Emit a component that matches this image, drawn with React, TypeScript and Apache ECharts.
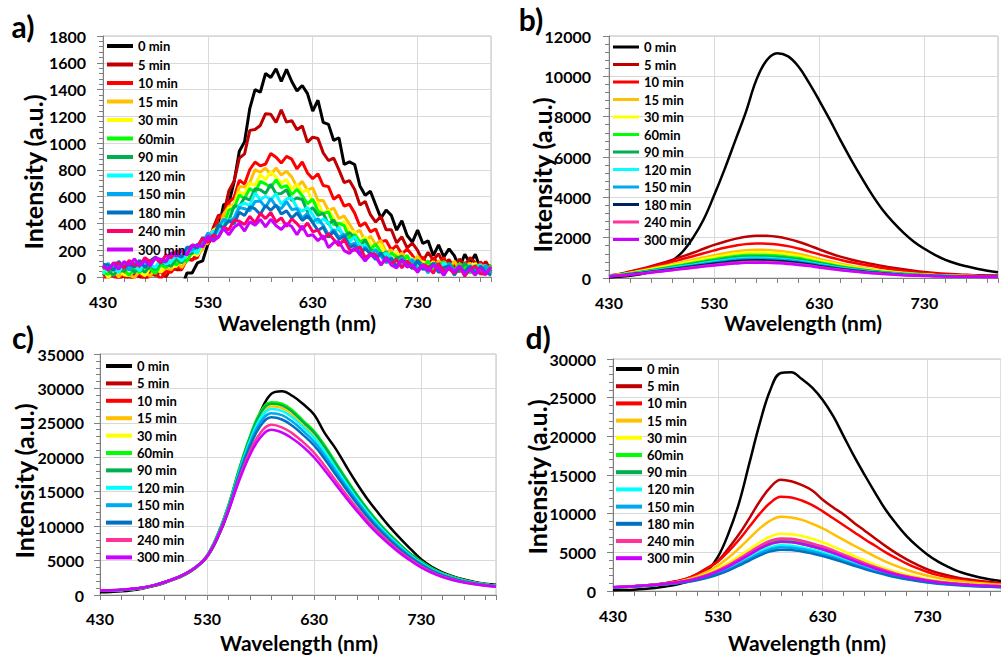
import React, { useEffect, useRef } from "react";
import * as echarts from "echarts";

// ---------- axes / categories ----------
const WL5 = [430,435,440,445,450,455,460,465,470,475,480,485,490,495,500,505,510,515,520,525,530,535,540,545,550,555,560,565,570,575,580,585,590,595,600,605,610,615,620,625,630,635,640,645,650,655,660,665,670,675,680,685,690,695,700,705,710,715,720,725,730,735,740,745,750,755,760,765,770,775,780,785,790,795,800];
const WL10 = [430,440,450,460,470,480,490,500,510,520,530,540,550,560,570,580,590,600,610,620,630,640,650,660,670,680,690,700,710,720,730,740,750,760,770,780,790,800];
const SERIES_NAMES = ["0 min","5 min","10 min","15 min","30 min","60min","90 min","120 min","150 min","180 min","240 min","300 min"];
const X_MIN = 430;
const X_MAX = 800;
const X_INTERVAL = 100;

const COLORS_A = ["#000000","#C00000","#FF0000","#FFC000","#FFFF00","#00FF00","#00B050","#00FFFF","#00A8F0","#0070C0","#FF0066","#CC00FF"];
const COLORS_B = ["#000000","#C00000","#FF0000","#FFC000","#FFFF00","#00FF00","#00B050","#00FFFF","#00A8F0","#002060","#FF3399","#CC00FF"];
const COLORS_CD = ["#000000","#C00000","#FF0000","#FFC000","#FFFF00","#00FF00","#00B050","#00FFFF","#00A8F0","#0070C0","#FF3399","#CC00FF"];

// ---------- panel a (noisy, 5 nm steps) ----------
const A_0 = [-40,-75,-30,-55,-85,-45,-90,-35,-65,-25,-80,-50,-95,-40,-60,-85,30,30,105,120,245,305,350,540,550,710,940,1010,1260,1400,1380,1520,1490,1555,1460,1550,1460,1390,1430,1370,1240,1320,1155,1140,1020,1040,840,860,840,680,610,640,540,440,500,460,350,420,310,260,350,250,270,160,240,150,210,160,70,170,100,170,60,110,30];
const A_5 = [25,-5,35,-20,10,-35,20,0,-25,40,10,40,0,65,55,55,135,125,175,260,242,365,460,467,643,715,888,920,1095,1102,1132,1220,1215,1155,1248,1157,1168,1100,1128,1007,1045,1035,927,870,888,800,705,720,653,537,565,465,410,453,352,353,255,300,217,253,198,117,185,125,175,92,130,72,135,79,145,106,57,115,45];
const A_10 = [-30,25,5,-20,35,-15,-5,30,-25,10,30,-15,45,35,85,60,130,130,145,240,283,296,446,455,557,594,723,694,803,859,830,844,923,895,851,901,880,807,859,777,734,771,683,675,581,611,530,543,477,379,406,337,359,264,273,202,236,170,209,162,107,150,81,145,98,146,69,103,39,108,80,45,114,59,90];
const A_15 = [35,10,45,0,50,15,-5,45,40,5,75,35,65,55,115,70,130,180,165,205,300,325,344,469,528,545,676,673,706,802,784,813,764,814,762,790,746,673,714,648,666,571,572,495,514,437,456,396,330,348,264,305,244,272,186,202,128,179,140,100,156,98,118,59,120,91,56,120,57,66,106,38,77,86,18];
const A_30 = [55,-5,40,60,15,12,60,38,10,65,65,35,100,75,80,150,125,175,160,250,252,350,376,388,514,533,636,621,702,685,764,727,786,746,700,728,654,695,634,652,556,557,468,499,440,380,416,338,338,259,300,251,196,242,162,159,186,108,137,139,63,116,78,115,56,114,69,42,94,80,29,104,42,64,31];
const A_60 = [30,20,75,35,55,12,65,33,75,60,25,90,70,125,90,135,115,190,185,270,286,295,388,384,500,514,612,586,662,628,714,695,670,726,668,683,614,655,606,546,582,492,474,486,390,402,384,288,318,263,280,206,246,184,140,179,152,94,162,92,106,71,120,43,92,114,57,48,100,68,29,86,78,28,91];
const A_90 = [70,50,10,68,40,82,35,68,35,85,55,110,95,80,135,105,175,175,245,225,292,278,384,405,420,531,528,593,574,660,651,624,692,622,624,651,570,590,579,486,518,460,475,394,426,356,305,332,292,222,277,197,201,154,190,103,142,156,92,78,125,90,49,104,93,42,106,56,41,104,54,76,19,76,32];
const A_120 = [25,80,60,37,95,58,85,45,105,90,70,135,95,115,160,120,170,205,175,260,268,345,326,426,424,440,534,552,534,627,577,604,576,622,543,582,591,517,491,520,465,402,434,403,330,371,298,261,302,234,238,166,209,150,180,144,83,139,93,134,66,97,50,100,54,105,72,34,80,24,88,50,96,28,62];
const A_150 = [65,102,50,88,100,50,105,85,125,88,145,120,110,168,170,145,225,200,245,250,330,288,372,431,412,436,520,510,494,564,568,520,586,530,511,564,504,510,439,476,412,435,386,313,354,296,321,238,252,190,224,164,201,156,105,143,79,135,89,130,58,89,30,92,65,32,96,46,74,18,82,56,24,88,27];
const A_180 = [95,88,50,117,70,95,75,125,70,122,150,115,120,177,165,150,215,233,215,295,278,294,387,369,423,396,484,460,525,508,468,534,498,538,471,494,440,479,422,456,406,348,373,296,340,282,307,221,237,166,214,175,130,181,118,138,74,131,98,62,122,57,64,102,33,72,82,14,72,40,80,24,82,38,13];
const A_240 = [80,52,105,103,65,125,90,85,145,113,140,105,165,143,195,190,165,240,230,290,256,314,295,372,352,426,416,392,453,404,475,436,482,411,442,378,434,398,355,404,338,350,279,325,281,234,282,204,199,226,145,172,169,90,138,98,130,68,121,74,45,94,78,27,102,40,61,28,80,6,59,81,26,19,72];
const A_300 = [85,57,100,58,115,90,135,85,120,83,145,132,115,182,155,195,165,237,235,228,307,267,299,361,315,372,399,343,413,386,430,374,431,384,355,399,377,316,382,307,316,271,310,220,257,266,197,176,215,170,119,166,148,90,146,89,68,128,74,93,34,90,44,89,62,12,76,38,84,22,57,14,67,24,76];

// ---------- panel b (10 nm steps) ----------
const B_0 = [30,60,110,190,310,520,850,1300,2000,2900,4100,5400,6800,8200,9800,10800,11150,11000,10500,9700,8800,7850,6850,5900,5000,4150,3400,2780,2250,1800,1450,1150,900,720,580,460,360,280];
const B_5 = [120,200,320,450,590,740,900,1070,1250,1450,1640,1800,1940,2040,2100,2090,2040,1940,1800,1620,1420,1230,1060,920,800,700,600,510,430,360,300,250,210,180,160,140,130,120];
const B_10 = [120,190,300,420,540,670,800,940,1080,1230,1370,1500,1600,1680,1710,1700,1660,1580,1460,1320,1170,1030,900,780,680,590,500,420,350,295,245,205,175,150,135,120,110,100];
const B_15 = [110,170,260,360,460,570,680,790,910,1020,1130,1230,1320,1380,1400,1390,1350,1290,1200,1080,950,830,710,610,520,440,370,310,260,220,185,155,135,120,105,95,90,85];
const B_30 = [110,165,245,335,430,530,630,730,840,940,1040,1130,1210,1260,1280,1270,1235,1180,1100,990,870,760,650,560,475,400,340,285,240,200,170,145,125,110,100,90,85,80];
const B_60 = [105,155,225,305,390,480,570,660,755,845,935,1015,1090,1135,1150,1140,1110,1060,990,890,785,685,585,505,430,360,305,255,215,180,155,130,115,100,90,82,78,74];
const B_90 = [100,150,215,290,370,450,535,620,710,795,880,955,1025,1065,1080,1070,1040,995,930,835,740,645,550,475,405,340,285,240,200,170,145,122,108,95,85,78,74,70];
const B_120 = [100,145,205,275,345,420,500,580,660,740,815,885,950,990,1000,990,960,920,860,775,685,595,510,440,375,315,265,222,185,157,133,113,100,88,80,73,69,65];
const B_150 = [95,140,195,260,330,400,475,550,625,700,775,840,900,940,950,940,915,875,815,735,650,565,485,418,355,300,252,210,176,149,126,108,95,84,76,70,66,62];
const B_180 = [90,130,180,240,305,370,440,510,580,650,715,775,830,870,880,870,845,810,755,680,600,525,450,387,330,278,233,195,163,138,117,100,88,78,71,65,61,58];
const B_240 = [85,120,165,220,280,340,400,465,530,590,650,705,755,790,800,790,770,735,685,620,545,475,410,352,300,253,212,177,148,125,106,91,80,71,64,59,55,52];
const B_300 = [80,115,160,210,265,325,385,445,505,565,620,670,715,750,760,750,730,700,650,590,520,452,390,335,285,240,202,168,141,119,101,87,76,68,61,56,52,50];

// ---------- panel c (10 nm steps) ----------
const C_0 = [400,450,530,700,950,1300,1750,2300,3000,4000,5500,8300,12200,17300,22300,26600,29200,29600,28900,27700,26200,23500,21300,18700,16200,13900,11900,10000,8300,6700,5200,4100,3300,2700,2250,1900,1650,1500];
const C_5 = [606,656,726,856,1056,1400,1850,2400,3100,4100,5688,8752,12904,18096,22676,26156,27520,27296,26308,24844,23344,21268,18916,16564,14312,12248,10384,8720,7244,5880,4792,3816,3084,2546,2108,1770,1526,1332];
const C_10 = [605,655,725,855,1055,1400,1850,2400,3100,4100,5690,8760,12920,18130,22730,26230,27600,27380,26390,24920,23420,21340,18980,16620,14360,12290,10420,8750,7270,5900,4810,3830,3095,2555,2115,1775,1530,1335];
const C_15 = [608,658,728,858,1058,1400,1850,2400,3100,4100,5685,8740,12880,18045,22595,26045,27400,27170,26185,24730,23230,21160,18820,16480,14240,12185,10330,8675,7205,5850,4765,3795,3068,2532,2098,1762,1520,1328];
const C_30 = [604,654,724,854,1054,1400,1850,2400,3100,4100,5692,8768,12936,18164,22784,26304,27680,27464,26472,24996,23496,21412,19044,16676,14408,12332,10456,8780,7296,5920,4828,3844,3106,2564,2122,1780,1534,1338];
const C_60 = [600,650,720,850,1050,1400,1850,2400,3100,4100,5700,8800,13000,18300,23000,26600,28000,27800,26800,25300,23800,21700,19300,16900,14600,12500,10600,8900,7400,6000,4900,3900,3150,2600,2150,1800,1550,1350];
const C_90 = [603,653,723,853,1053,1400,1850,2400,3100,4100,5694,8776,12952,18198,22838,26378,27760,27548,26554,25072,23572,21484,19108,16732,14456,12374,10492,8810,7322,5940,4846,3858,3117,2573,2129,1785,1538,1341];
const C_120 = [612,662,732,862,1062,1400,1850,2400,3100,4100,5675,8700,12800,17875,22325,25675,27000,26750,25775,24350,22850,20800,18500,16200,14000,11975,10150,8525,7075,5750,4675,3725,3012,2488,2062,1738,1500,1312];
const C_150 = [620,670,740,870,1070,1400,1850,2400,3100,4100,5660,8640,12680,17620,21920,25120,26400,26120,25160,23780,22280,20260,18020,15780,13640,11660,9880,8300,6880,5600,4540,3620,2930,2420,2010,1700,1470,1290];
const C_180 = [628,678,748,878,1078,1400,1850,2400,3100,4100,5645,8580,12560,17365,21515,24565,25800,25490,24545,23210,21710,19720,17540,15360,13280,11345,9610,8075,6685,5450,4405,3515,2848,2352,1958,1662,1440,1268];
const C_240 = [641,691,761,891,1091,1400,1850,2400,3100,4100,5618,8472,12344,16906,20786,23566,24720,24356,23438,22184,20684,18748,16676,14604,12632,10778,9124,7670,6334,5180,4162,3326,2699,2231,1863,1595,1386,1227];
const C_300 = [650,700,770,900,1100,1400,1850,2400,3100,4100,5600,8400,12200,16600,20300,22900,24000,23600,22700,21500,20000,18100,16100,14100,12200,10400,8800,7400,6100,5000,4000,3200,2600,2150,1800,1550,1350,1200];

// ---------- panel d (10 nm steps) ----------
const D_0 = [100,130,170,250,390,580,820,1150,1680,2600,4400,7400,11300,16500,21700,26000,28200,28300,27400,26300,24700,22600,20000,17400,15000,12700,10500,8700,7100,5800,4700,3800,3100,2500,2100,1750,1500,1300];
const D_5 = [450,520,600,700,830,1000,1250,1600,2200,3000,3900,5500,7300,9400,11600,13400,14400,14200,13700,13000,11800,10800,9900,8800,7800,6800,5800,4900,4100,3400,2800,2350,2000,1700,1480,1300,1150,1020];
const D_10 = [450,520,600,700,830,1000,1250,1600,2150,2900,3800,5100,6600,8300,10000,11400,12200,12100,11700,11100,10300,9400,8500,7600,6700,5850,5000,4250,3550,2950,2450,2050,1750,1500,1320,1170,1050,950];
const D_15 = [450,510,590,680,800,950,1150,1450,1900,2500,3300,4300,5500,6800,8100,9100,9600,9500,9200,8700,8100,7350,6600,5850,5150,4450,3800,3250,2750,2330,1980,1680,1460,1280,1130,1000,900,820];
const D_30 = [450,510,580,670,780,920,1100,1370,1750,2250,2900,3650,4500,5400,6300,7050,7400,7350,7100,6750,6300,5750,5150,4550,3950,3400,2900,2480,2100,1800,1530,1300,1130,1000,890,800,730,670];
const D_60 = [490,550,620,700,800,930,1100,1320,1650,2070,2610,3260,4030,4850,5680,6310,6600,6550,6310,5970,5580,5090,4560,4030,3490,3010,2570,2180,1860,1590,1360,1170,1020,900,810,730,670,620];
const D_90 = [480,540,610,690,790,910,1070,1280,1580,1990,2500,3120,3860,4650,5450,6050,6350,6290,6050,5720,5350,4880,4370,3860,3350,2880,2460,2100,1780,1520,1300,1120,980,860,770,700,640,590];
const D_120 = [480,540,600,680,770,880,1030,1220,1500,1870,2340,2910,3600,4340,5080,5640,5900,5860,5640,5340,4990,4560,4080,3600,3130,2690,2300,1950,1670,1420,1220,1040,910,810,720,650,600,560];
const D_150 = [470,530,590,670,760,870,1010,1190,1450,1800,2240,2780,3440,4150,4860,5400,5650,5600,5400,5110,4770,4360,3900,3440,2990,2570,2200,1870,1590,1360,1160,1000,870,770,690,620,570,530];
const D_180 = [460,520,580,660,750,860,990,1160,1400,1720,2130,2640,3270,3940,4600,5120,5350,5310,5120,4840,4520,4130,3700,3270,2830,2440,2090,1770,1510,1290,1100,940,830,730,650,590,540,500];
const D_240 = [500,560,630,710,810,940,1110,1340,1680,2120,2680,3350,4150,5000,5850,6500,6800,6750,6500,6150,5750,5250,4700,4150,3600,3100,2650,2250,1920,1640,1400,1200,1050,930,830,750,690,640];
const D_300 = [500,560,630,710,805,930,1090,1300,1600,2010,2530,3150,3900,4700,5500,6110,6400,6350,6110,5780,5400,4930,4420,3900,3380,2910,2490,2120,1800,1540,1320,1130,990,870,780,710,650,600];

const FONT = "Lato, 'Open Sans', sans-serif";

type PanelCfg = {
  label: string;
  labelPos: [number, number];
  grid: { left: number; top: number; width: number; height: number };
  yMax: number;
  yInterval: number;
  wl: number[];
  values: number[][];
  colors: string[];
  lineWidth: number;
  smooth: number | boolean;
  legend: { left: number; top: number; gap: number; iconH: number };
  yName: [number, number];
  xName: [number, number];
  yLabelMargin: number;
  xLabelMargin: number;
};

const PANEL_A: PanelCfg = {
  label: "a)", labelPos: [23, 26],
  grid: { left: 103, top: 36, width: 388, height: 241 },
  yMax: 1800, yInterval: 200, wl: WL5,
  values: [A_0, A_5, A_10, A_15, A_30, A_60, A_90, A_120, A_150, A_180, A_240, A_300],
  colors: COLORS_A, lineWidth: 3, smooth: false,
  legend: { left: 107, top: 39, gap: 4.5, iconH: 4 },
  yName: [33, 172], xName: [297, 322], yLabelMargin: 17, xLabelMargin: 16,
};
const PANEL_B: PanelCfg = {
  label: "b)", labelPos: [31, 19],
  grid: { left: 109, top: 36, width: 389, height: 242 },
  yMax: 12000, yInterval: 2000, wl: WL10,
  values: [B_0, B_5, B_10, B_15, B_30, B_60, B_90, B_120, B_150, B_180, B_240, B_300],
  colors: COLORS_B, lineWidth: 2.5, smooth: 0.4,
  legend: { left: 113, top: 40, gap: 3.5, iconH: 3 },
  yName: [42, 175], xName: [303, 322], yLabelMargin: 18, xLabelMargin: 16,
};
const PANEL_C: PanelCfg = {
  label: "c)", labelPos: [23, 22],
  grid: { left: 100, top: 39, width: 396, height: 241 },
  yMax: 35000, yInterval: 5000, wl: WL10,
  values: [C_0, C_5, C_10, C_15, C_30, C_60, C_90, C_120, C_150, C_180, C_240, C_300],
  colors: COLORS_CD, lineWidth: 2.5, smooth: 0.4,
  legend: { left: 106, top: 44, gap: 3.4, iconH: 4 },
  yName: [24, 166], xName: [299, 327], yLabelMargin: 16, xLabelMargin: 15,
};
const PANEL_D: PanelCfg = {
  label: "d)", labelPos: [38, 22],
  grid: { left: 113, top: 44, width: 388, height: 232 },
  yMax: 30000, yInterval: 5000, wl: WL10,
  values: [D_0, D_5, D_10, D_15, D_30, D_60, D_90, D_120, D_150, D_180, D_240, D_300],
  colors: COLORS_CD, lineWidth: 2.5, smooth: 0.4,
  legend: { left: 116, top: 47, gap: 3.2, iconH: 4 },
  yName: [37, 162], xName: [307, 327], yLabelMargin: 17, xLabelMargin: 16,
};

function buildOption(cfg: PanelCfg) {
  const axisColor = "#7f7f7f";
  const labelStyle = { fontFamily: FONT, fontSize: 16, fontWeight: "bold", color: "#000" };
  const textBase = { fontFamily: FONT, fontWeight: "bold", fill: "#000", align: "center", verticalAlign: "middle", textAlign: "center", textVerticalAlign: "middle" };
  return {
    animation: false,
    textStyle: { fontFamily: FONT },
    grid: { ...cfg.grid, show: true, borderColor: "#bfbfbf", borderWidth: 1, backgroundColor: "transparent" },
    legend: {
      orient: "vertical",
      left: cfg.legend.left,
      top: cfg.legend.top,
      itemWidth: 26,
      itemHeight: cfg.legend.iconH,
      itemGap: cfg.legend.gap,
      icon: "rect",
      padding: 0,
      selectedMode: false,
      data: SERIES_NAMES,
      textStyle: { fontFamily: FONT, fontSize: 13, fontWeight: "bold", color: "#000", lineHeight: 14 },
    },
    xAxis: {
      type: "value",
      min: X_MIN,
      max: X_MAX,
      interval: X_INTERVAL,
      axisLine: { show: true, onZero: false, lineStyle: { color: axisColor, width: 1 } },
      axisTick: { show: true, length: 5, lineStyle: { color: axisColor } },
      minorTick: { show: true, splitNumber: 5, length: 5, lineStyle: { color: axisColor } },
      splitLine: { show: true, lineStyle: { color: "#d9d9d9", width: 1 } },
      minorSplitLine: { show: false },
      axisLabel: { ...labelStyle, margin: cfg.xLabelMargin, showMaxLabel: false, formatter: (v: number) => String(v) },
    },
    yAxis: {
      type: "value",
      min: 0,
      max: cfg.yMax,
      interval: cfg.yInterval,
      axisLine: { show: true, lineStyle: { color: axisColor, width: 1 } },
      axisTick: { show: true, length: 6, lineStyle: { color: axisColor } },
      minorTick: { show: true, splitNumber: 5, length: 4, lineStyle: { color: axisColor } },
      splitLine: { show: true, lineStyle: { color: "#d9d9d9", width: 1 } },
      axisLabel: { ...labelStyle, margin: cfg.yLabelMargin, formatter: (v: number) => String(v) },
    },
    graphic: [
      { type: "text", x: cfg.labelPos[0], y: cfg.labelPos[1], style: { ...textBase, text: cfg.label, fontSize: 30 } },
      { type: "text", x: cfg.yName[0], y: cfg.yName[1], rotation: Math.PI / 2, style: { ...textBase, text: "Intensity (a.u.)", fontSize: 25 } },
      { type: "text", x: cfg.xName[0], y: cfg.xName[1], style: { ...textBase, text: "Wavelength (nm)", fontSize: 21 } },
    ],
    series: cfg.values.map((vals, si) => ({
      type: "line",
      name: SERIES_NAMES[si],
      data: cfg.wl.map((w, i) => [w, vals[i]]),
      showSymbol: false,
      symbol: "none",
      smooth: cfg.smooth,
      clip: true,
      silent: true,
      lineStyle: { width: cfg.lineWidth, color: cfg.colors[si] },
      itemStyle: { color: cfg.colors[si] },
      emphasis: { disabled: true },
    })),
  };
}

function Panel({ cfg, left, top, width, height }: { cfg: PanelCfg; left: number; top: number; width: number; height: number }) {
  const ref = useRef<HTMLDivElement>(null);
  useEffect(() => {
    if (!ref.current) return;
    const chart = echarts.init(ref.current, undefined, { renderer: "svg" });
    chart.setOption(buildOption(cfg) as any);
    return () => chart.dispose();
  }, [cfg]);
  return <div ref={ref} style={{ position: "absolute", left, top, width, height }} />;
}

export default function App() {
  return (
    <div style={{ position: "fixed", left: 0, top: 0, width: 1001, height: 658, background: "#fff", overflow: "hidden" }}>
      <Panel cfg={PANEL_A} left={0} top={0} width={500} height={345} />
      <Panel cfg={PANEL_B} left={500} top={0} width={501} height={345} />
      <Panel cfg={PANEL_C} left={0} top={315} width={500} height={343} />
      <Panel cfg={PANEL_D} left={500} top={315} width={501} height={343} />
    </div>
  );
}
